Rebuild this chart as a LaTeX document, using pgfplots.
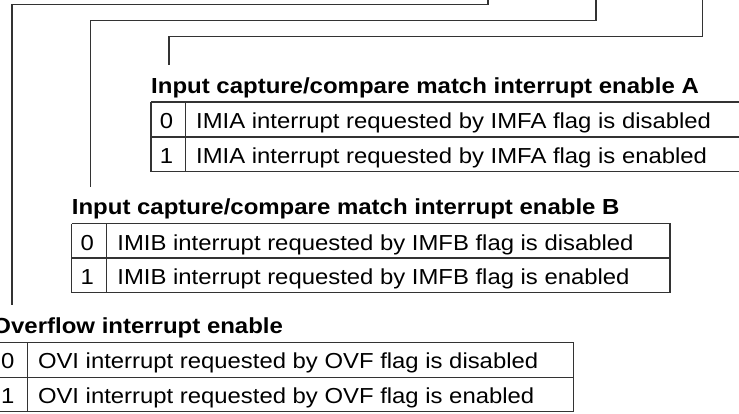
\documentclass[border=0pt]{standalone}
\usepackage{fontspec}
\setmainfont{Liberation Sans}[FakeStretch=1.1]
\usepackage{pgfplots}
\pgfplotsset{compat=1.18}
\tikzset{
  ln/.style={no markers,solid,line width=1.2pt,color=black!80,line join=miter},
  txt/.style={anchor=base west,inner sep=0pt,font=\fontsize{21.7}{26}\selectfont},
  dig/.style={anchor=base,inner sep=0pt,font=\fontsize{21.7}{26}\selectfont},
  ttl/.style={anchor=base west,inner sep=0pt,font=\fontsize{21.8}{26}\selectfont\bfseries}}
\begin{document}
\begin{tikzpicture}
\begin{axis}[width=739pt,height=413pt,scale only axis,
  xmin=0,xmax=739,ymin=0,ymax=413,y dir=reverse,hide axis,clip=true]
% connectors
\addplot[ln] coordinates {(488,-5) (488,4.5) (12,4.5) (12,305)};
\addplot[ln] coordinates {(596,-5) (596,20.7) (90.5,20.7) (90.5,186.7)};
\addplot[ln] coordinates {(702.3,-5) (702.3,36.5) (169,36.5) (169,65)};
% table A
\addplot[ln] coordinates {(151,102) (748,102) (748,171.7) (151,171.7) (151,102)};
\addplot[ln] coordinates {(151,136.9) (748,136.9)};
\addplot[ln] coordinates {(185.7,102) (185.7,171.7)};
% table B
\addplot[ln] coordinates {(71.7,223.5) (670,223.5) (670,292.5) (71.7,292.5) (71.7,223.5)};
\addplot[ln] coordinates {(71.7,258) (670,258)};
\addplot[ln] coordinates {(106.7,223.5) (106.7,292.5)};
% table C
\addplot[ln] coordinates {(-7.7,342.7) (573.3,342.7) (573.3,411.7) (-7.7,411.7) (-7.7,342.7)};
\addplot[ln] coordinates {(-7.7,377.2) (573.3,377.2)};
\addplot[ln] coordinates {(27.3,342.7) (27.3,411.7)};
% texts A
\node[ttl] at (axis cs:151,93.2) {Input capture/compare match interrupt enable A};
\node[dig] at (axis cs:166.5,128.5) {0};
\node[dig] at (axis cs:166.5,163.3) {1};
\node[txt] at (axis cs:196,128.5) {IMIA interrupt requested by IMFA flag is disabled};
\node[txt] at (axis cs:196,163.3) {IMIA interrupt requested by IMFA flag is enabled};
% texts B
\node[ttl] at (axis cs:71.7,214.7) {Input capture/compare match interrupt enable B};
\node[dig] at (axis cs:87.2,250) {0};
\node[dig] at (axis cs:87.2,284.8) {1};
\node[txt] at (axis cs:117.2,250) {IMIB interrupt requested by IMFB flag is disabled};
\node[txt] at (axis cs:117.2,284.8) {IMIB interrupt requested by IMFB flag is enabled};
% texts C
\node[ttl] at (axis cs:-7.7,333.5) {Overflow interrupt enable};
\node[dig] at (axis cs:7.8,368.8) {0};
\node[dig] at (axis cs:7.8,403.6) {1};
\node[txt] at (axis cs:37.8,368.8) {OVI interrupt requested by OVF flag is disabled};
\node[txt] at (axis cs:37.8,403.6) {OVI interrupt requested by OVF flag is enabled};
\end{axis}
\pgfresetboundingbox
\path[use as bounding box] (current axis.south west) rectangle (current axis.north east);
\end{tikzpicture}
\end{document}
